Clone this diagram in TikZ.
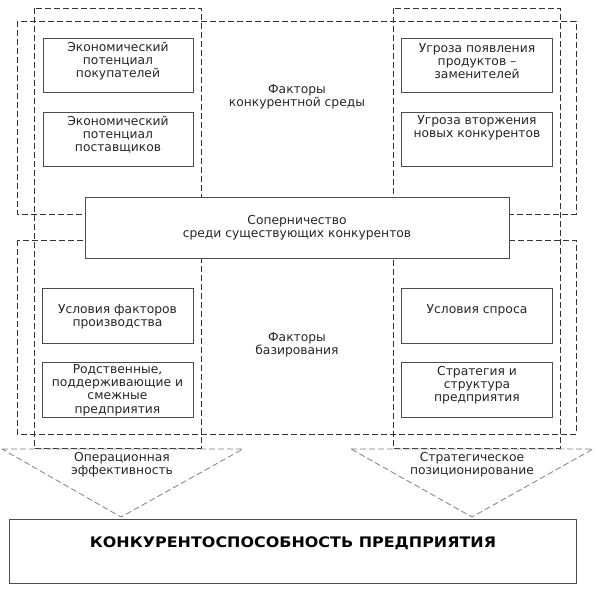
\documentclass[tikz,border=0pt]{standalone}
\usepackage{fontspec}
\setmainfont{DejaVu Sans}
\usepackage{graphicx}
\begin{document}
\begin{tikzpicture}[x=1pt,y=-1pt,
  box/.style={draw=black!70, line width=1pt, fill=white, minimum width=150pt, minimum height=54pt, inner sep=0pt},
  frame/.style={draw=black!80, line width=0.8pt, dash pattern=on 6pt off 3pt},
  tri/.style={draw=black!50, line width=0.8pt, dash pattern=on 6pt off 3pt},
  txt/.style={align=center, inner sep=0pt, font=\fontsize{12.3}{13.2}\selectfont, text=black!85}]
\useasboundingbox (0,0) rectangle (596,591);
% dashed frames
\draw[frame] (17,21) rectangle (576,214);
\draw[frame] (17,240) rectangle (576,434);
\draw[frame] (34,8) rectangle (201,448);
\draw[frame] (393,8) rectangle (560,448);
% triangles
\coordinate (l1) at (2,449); \coordinate (l2) at (243,449); \coordinate (l3) at (121,517);
\coordinate (r1) at (351,449); \coordinate (r2) at (593,449); \coordinate (r3) at (472,517);
\draw[tri] (l1) -- (l2) -- (l3) -- cycle;
\draw[tri] (r1) -- (r2) -- (r3) -- cycle;
% boxes
\node[box] (b1) at (118,66) {};
\node[box] (b2) at (118,139) {};
\node[box, minimum width=151pt] (b3) at (476.5,66) {};
\node[box, minimum width=151pt] (b4) at (476.5,139) {};
\node[box, minimum width=151pt, minimum height=55pt] (b5) at (117.5,315.5) {};
\node[box, minimum width=151pt, minimum height=55pt] (b6) at (117.5,389.5) {};
\node[box, minimum width=151pt, minimum height=55pt] (b7) at (476.5,315.5) {};
\node[box, minimum width=151pt, minimum height=55pt] (b8) at (476.5,389.5) {};
\node[box, minimum width=424pt, minimum height=61pt] (riv) at (297,227.5) {};
\node[box, minimum width=567pt, minimum height=64pt] (big) at (292.5,551) {};
% texts
\node[txt] (t1) at (118,61) {Экономический\\потенциал\\покупателей};
\node[txt] (t2) at (118,134.5) {Экономический\\потенциал\\поставщиков};
\node[txt] (t3) at (477,61) {Угроза появления\\продуктов –\\заменителей};
\node[txt] (t4) at (477,128) {Угроза вторжения\\новых конкурентов};
\node[txt] (t5) at (117.5,316.5) {Условия факторов\\производства};
\node[txt] (t6) at (117.5,390) {Родственные,\\поддерживающие и\\смежные\\предприятия};
\node[txt] (t7) at (477,310) {Условия спроса};
\node[txt] (t8) at (477,385) {Стратегия и\\структура\\предприятия};
\node[txt] (fenv) at (297,96.5) {Факторы\\конкурентной среды};
\node[txt] (fbase) at (297,344.5) {Факторы\\базирования};
\node[txt] (trv) at (297,228) {Соперничество\\среди существующих конкурентов};
\node[txt] (top) at (122,465) {Операционная\\эффективность};
\node[txt] (tsp) at (472,465) {Стратегическое\\позиционирование};
\node[inner sep=0pt, font=\fontsize{14.5}{16}\selectfont\bfseries] (title) at (293,543) {\scalebox{1.1}[1]{КОНКУРЕНТОСПОСОБНОСТЬ ПРЕДПРИЯТИЯ}};
\end{tikzpicture}
\end{document}
